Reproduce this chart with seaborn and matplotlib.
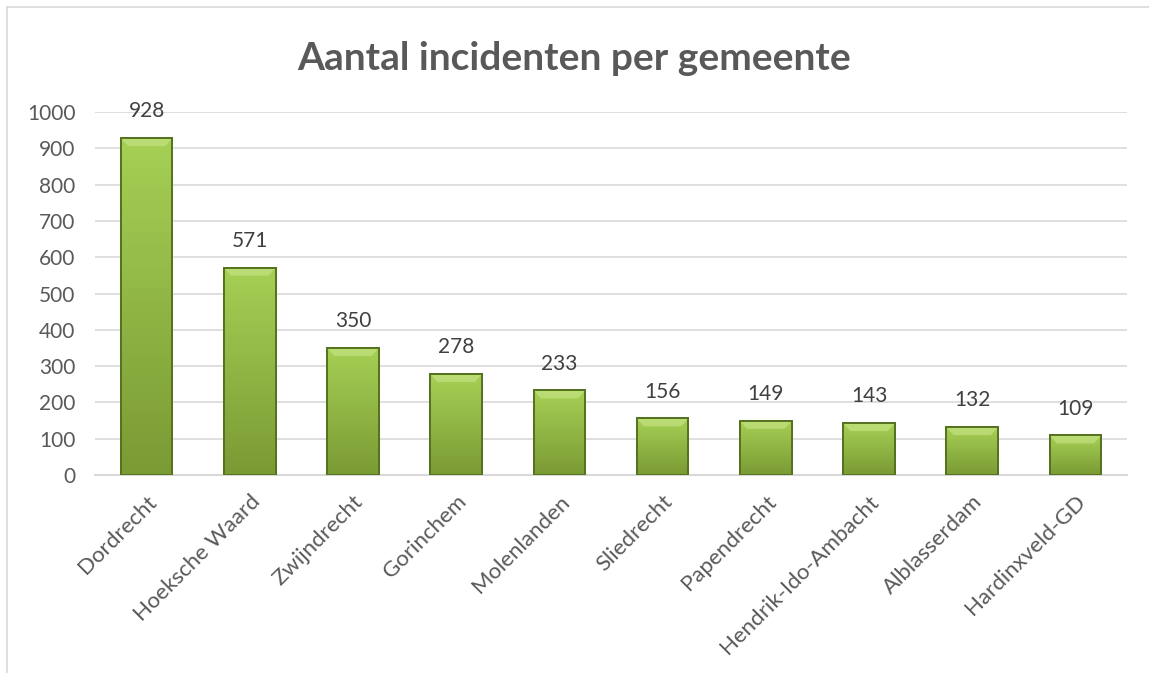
import numpy as np
import pandas as pd
import seaborn as sns
import matplotlib.pyplot as plt
from matplotlib.lines import Line2D

gemeenten = ['Dordrecht', 'Hoeksche Waard', 'Zwijndrecht', 'Gorinchem', 'Molenlanden',
             'Sliedrecht', 'Papendrecht', 'Hendrik-Ido-Ambacht', 'Alblasserdam', 'Hardinxveld-GD']
incidenten = [928, 571, 350, 278, 233, 156, 149, 143, 132, 109]
y_ticks = [0, 100, 200, 300, 400, 500, 600, 700, 800, 900, 1000]

df = pd.DataFrame({'gemeente': gemeenten, 'incidenten': incidenten})

sns.set_theme(style='white')
plt.rcParams['font.family'] = ['Lato', 'DejaVu Sans']

fig = plt.figure(figsize=(11.49, 6.73), dpi=100)
ax = fig.add_axes([95 / 1149, 1 - 475 / 673, (1127 - 95) / 1149, (475 - 112) / 673])

sns.barplot(data=df, x='gemeente', y='incidenten', color='#9BC445', width=0.5,
            edgecolor='#5B7A22', linewidth=1.2, ax=ax, zorder=3)

# vertical gradient on each bar (light top, darker bottom)
grad = np.linspace(0, 1, 256).reshape(-1, 1)
cmap = sns.blend_palette(['#7A9A34', '#A6D055'], as_cmap=True)
for p in ax.patches:
    x0, y0 = p.get_x(), p.get_y()
    w, h = p.get_width(), p.get_height()
    im = ax.imshow(grad, extent=[x0, x0 + w, y0, y0 + h], origin='lower', cmap=cmap,
                   aspect='auto', zorder=3.5)
    im.set_clip_path(p)
    # bevel highlight at the top
    ax.fill([x0, x0 + w, x0 + w * 0.86, x0 + w * 0.14],
            [y0 + h, y0 + h, y0 + h - 22, y0 + h - 22],
            color='#CBE58A', alpha=0.6, zorder=3.6, lw=0)
    ax.add_patch(plt.Rectangle((x0, y0), w, h, fill=False, edgecolor='#55721F',
                               lw=1.4, zorder=3.7))

ax.set_xlim(-0.5, len(gemeenten) - 0.5)
ax.set_ylim(0, 1000)
ax.set_yticks(y_ticks)
ax.set_yticklabels([str(v) for v in y_ticks], fontsize=15, color='#595959')
ax.set_xticks(range(len(gemeenten)))
ax.set_xticklabels(gemeenten, rotation=45, ha='right', rotation_mode='anchor',
                   fontsize=16, color='#595959')
ax.tick_params(axis='y', length=0, pad=14)
ax.tick_params(axis='x', length=0, pad=12)
ax.set_xlabel('')
ax.set_ylabel('')
ax.grid(axis='y', color='#D9D9D9', lw=1.2, zorder=0)
for s in ['top', 'right', 'left']:
    ax.spines[s].set_visible(False)
ax.spines['bottom'].set_color('#D9D9D9')
ax.spines['bottom'].set_linewidth(1.5)

for i, v in enumerate(incidenten):
    ax.annotate(str(v), (i, v), xytext=(0, 12), textcoords='offset points',
                ha='center', va='bottom', fontsize=15, color='#404040', annotation_clip=False)

fig.text(0.5, 1 - 58 / 673, 'Aantal incidenten per gemeente', ha='center', va='center',
         fontsize=28, fontweight='bold', color='#595959')

# chart frame (partially visible)
fig.add_artist(Line2D([7 / 1149, 7 / 1149], [0, 1 - 7 / 673], transform=fig.transFigure,
                      color='#D9D9D9', lw=1.2))
fig.add_artist(Line2D([7 / 1149, 1], [1 - 7 / 673, 1 - 7 / 673], transform=fig.transFigure,
                      color='#D9D9D9', lw=1.2))

fig.savefig('out.png', dpi=100, facecolor='white')
